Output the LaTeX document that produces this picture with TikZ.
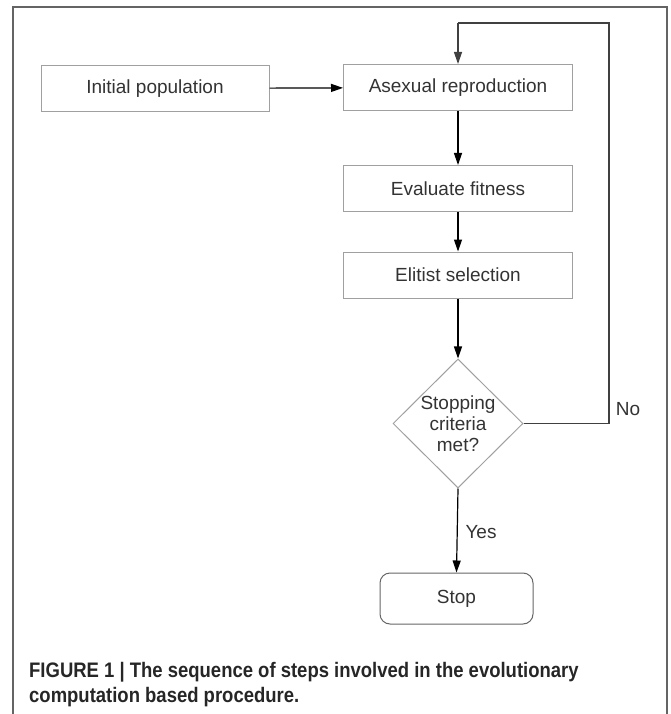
\documentclass[tikz,border=0pt]{standalone}
\usepackage{fontspec}
\setmainfont{Liberation Sans}
\newfontfamily\capfont[FakeStretch=0.88]{Liberation Sans}
\usetikzlibrary{shapes.geometric,arrows.meta}
\definecolor{txt}{RGB}{51,51,51}
\definecolor{boxline}{RGB}{160,160,160}
\definecolor{frameline}{RGB}{100,100,100}
\tikzset{
  stepbox/.style={draw=boxline, line width=1pt, rectangle, minimum width=229pt, minimum height=46pt, inner sep=0pt, text=txt, font=\fontsize{19}{21}\selectfont},
  flow/.style={draw=black, line width=1.2pt, -{Triangle[length=12pt,width=8pt]}},
  loopline/.style={draw=black!75, line width=1.1pt},
  lbl/.style={text=txt, font=\fontsize{19}{21}\selectfont, inner sep=0pt},
  captext/.style={text=black!85, font=\capfont\bfseries\fontsize{21}{25}\selectfont, inner sep=0pt, anchor=base west}
}
\begin{document}
\begin{tikzpicture}[x=1pt,y=-1pt]
\useasboundingbox (0,0) rectangle (670,714);
% frame
\draw[frameline, line width=1.5pt] (13,714) -- (13,7) -- (667,7) -- (667,714);
% nodes
\node[stepbox, minimum width=228pt] (init) at (155,88.5) {Initial population};
\node[stepbox] (asex) at (458,87.5) {Asexual reproduction};
\node[stepbox] (eval) at (458,188.5) {Evaluate fitness};
\node[stepbox] (elit) at (458,275) {Elitist selection};
\node[draw=boxline, line width=1pt, shape=diamond, minimum width=130pt, minimum height=129pt, inner sep=0pt] (dec) at (458,423.5) {};
\node[lbl, align=center, font=\fontsize{19}{21}\selectfont] (dectext) at (458,424) {Stopping\\criteria\\met?};
\node[draw=black!60, line width=1pt, rectangle, rounded corners=10pt, minimum width=153pt, minimum height=51pt, inner sep=0pt, text=txt, font=\fontsize{19}{21}\selectfont] (stop) at (456.5,598.5) {Stop};
\node[lbl] (yes) at (481,532) {Yes};
\node[lbl] (no) at (628,409) {No};
% connectors
\coordinate (c1) at (609,423.5);
\coordinate (c2) at (609,23);
\coordinate (c3) at (458,23);
\draw[flow] (init) -- (asex);
\draw[flow] (asex) -- (eval);
\draw[flow] (eval) -- (elit);
\draw[flow] (elit) -- (dec);
\draw[flow] (dec.south) -- (stop.north);
\draw[loopline] (dec.east) -- (c1) -- (c2) -- (c3);
\draw[flow, draw=black!75] (c3) -- (asex.north);
% caption
\node[captext] (cap1) at (29,677) {FIGURE 1 | The sequence of steps involved in the evolutionary};
\node[captext] (cap2) at (29,702) {computation based procedure.};
\end{tikzpicture}
\end{document}
